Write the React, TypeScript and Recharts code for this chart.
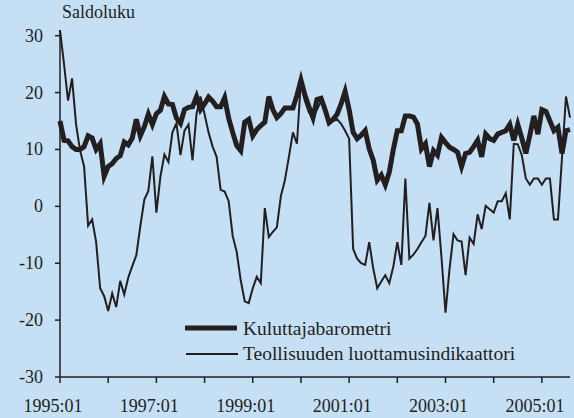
import { LineChart, Line, XAxis, YAxis, Legend, Label } from 'recharts';

// monthly data 1995:01 .. 2005:08
const startYear = 1995;
const months: string[] = Array.from({ length: 128 }, (_, i) => {
  const y = startYear + Math.floor(i / 12);
  const m = (i % 12) + 1;
  return `${y}:${m < 10 ? '0' + m : m}`;
});

const kuluttajabarometri = [
  15, 11.6, 11.5, 10.5, 10, 10, 10.5, 12.4, 12, 10, 11, 5.3, 7, 7.5, 8.4, 8.9, 11.3, 10.8, 12, 15.3,
  12.4, 14, 16.2, 14.4, 16.3, 16.9, 19.3, 18, 17.9, 15.5, 14.6, 17, 17.4, 17.5, 19.3, 17, 18, 19.2, 18.5, 17.5,
  17.5, 19.1, 15.5, 13, 10.7, 9.8, 14.8, 15.3, 12.4, 13.5, 14.2, 14.8, 19.3, 17, 15.6, 16.3, 17.3, 17.3, 17.3, 19.5,
  22.2, 19.5, 17.5, 15.6, 18.8, 19, 17, 14.7, 15.3, 16.2, 18, 20.2, 17, 13, 11.9, 12.5, 13.3, 10.1, 8.1, 4.6,
  5.5, 3.8, 6, 10, 13.3, 13.3, 15.9, 15.9, 15.7, 14.5, 10.1, 11, 7, 9.8, 9, 12.1, 11.2, 10.4, 10, 9.5,
  7, 9.3, 9.5, 10.5, 11.6, 8.7, 12.7, 11.9, 11.6, 12.7, 13, 13.3, 14.4, 11.6, 14.4, 12, 9.3, 12.5, 15.9, 12.7,
  17, 16.7, 15, 13.3, 13.9, 9.3, 13.3, 13.5,
];

const teollisuus = [
  31, 25, 18.6, 22.5, 14.4, 9.8, 7, -3.4, -2.3, -6.3, -14.4, -15.8, -18.4, -15.3, -17.7, -13.1, -15.5, -12.5, -10.5, -8.6,
  -3.5, 1.2, 2.7, 8.8, -1.1, 5.2, 9.1, 7.8, 13, 14.6, 9, 13.3, 14.4, 8.1, 16.3, 19.3, 16.2, 13, 10.5, 8.7,
  2.9, 2.6, 0.9, -5.2, -8, -13, -16.7, -17, -14.4, -12.4, -13.5, -0.3, -5.4, -4.5, -3.7, 1.8, 4.6, 8.7, 13, 11,
  22.2, 18.5, 16.5, 15.6, 17, 18.5, 17, 14.5, 15, 15.3, 14.5, 13.3, 11.9, -7.5, -9.2, -10, -10.3, -6.3, -10.9, -14.4,
  -13.2, -12.1, -13.5, -10.6, -6.3, -10.3, 4.9, -9.2, -8.5, -7.5, -6.3, -5.2, 0.6, -6, -0.3, -9, -18.7, -11, -4.9, -6,
  -6.2, -12.1, -5.5, -6.6, -1.4, -4, 0.1, -0.5, -1.1, 0.9, 0.9, 2.3, -2.3, 11, 10.9, 9, 4.9, 3.8, 4.9, 4.9,
  3.8, 4.9, 4.9, -2.3, -2.3, 8.5, 19.3, 15.6,
];

const xTicks = [0, 12, 24, 36, 48, 60, 72, 84, 96, 108, 120];
const yTicks = [-30, -20, -10, 0, 10, 20, 30];

const data = months.map((label, i) => ({
  i,
  label,
  kulu: kuluttajabarometri[i],
  teol: teollisuus[i],
}));

const ink = '#231f20';
const font =
  '"Liberation Serif", "Times New Roman", Tinos, "Nimbus Roman", "Noto Serif", "DejaVu Serif", FreeSerif, serif';
const textStyle: React.CSSProperties = { fontFamily: font };

const XTick = (props: any) => {
  const { x, payload } = props;
  const idx = payload.value as number;
  if (idx % 24 !== 0) return <g />;
  const cx = typeof payload.coordinate === 'number' ? payload.coordinate : x;
  return (
    <text x={cx - 7} y={412} textAnchor="middle" fill={ink} fontSize={18} style={textStyle}>
      {months[idx]}
    </text>
  );
};

const YTick = (props: any) => {
  const { y, payload } = props;
  return (
    <text x={43} y={y + 6} textAnchor="end" fill={ink} fontSize={18} style={textStyle}>
      {payload.value}
    </text>
  );
};

const renderLegend = () => (
  <svg width={360} height={52} style={{ display: 'block' }}>
    <line x1={5} x2={57} y1={14} y2={14} stroke={ink} strokeWidth={5} />
    <text x={63} y={21} fill={ink} fontSize={19.5} style={textStyle}>Kuluttajabarometri</text>
    <line x1={6} x2={58} y1={40} y2={40} stroke={ink} strokeWidth={2} />
    <text x={63} y={46} fill={ink} fontSize={19.5} style={textStyle}>Teollisuuden luottamusindikaattori</text>
  </svg>
);

export default function App() {
  return (
    <div style={styles.container}>
      <LineChart width={574} height={418} data={data} margin={{ top: 30, right: 4, bottom: 0, left: 0 }}>
        <XAxis
          dataKey="i"
          type="number"
          domain={[0, 127]}
          ticks={xTicks}
          interval={0}
          height={41}
          tickSize={6}
          stroke={ink}
          axisLine={{ stroke: ink, strokeWidth: 1.5 }}
          tickLine={{ stroke: ink, strokeWidth: 1.5 }}
          tick={XTick}
        />
        <YAxis
          type="number"
          domain={[-30, 30]}
          ticks={yTicks}
          interval={0}
          width={60}
          tickSize={5}
          stroke={ink}
          axisLine={{ stroke: ink, strokeWidth: 1.5 }}
          tickLine={{ stroke: ink, strokeWidth: 1.5 }}
          tick={YTick}
        >
          <Label
            content={() => (
              <text x={62} y={18} fill={ink} fontSize={18} style={textStyle}>
                Saldoluku
              </text>
            )}
          />
        </YAxis>
        <Legend
          layout="vertical"
          align="center"
          verticalAlign="middle"
          content={renderLegend}
          wrapperStyle={{ left: 180, top: 314, width: 360, height: 52 }}
        />
        <Line
          type="linear"
          dataKey="kulu"
          name="Kuluttajabarometri"
          stroke={ink}
          strokeWidth={5}
          dot={false}
          isAnimationActive={false}
        />
        <Line
          type="linear"
          dataKey="teol"
          name="Teollisuuden luottamusindikaattori"
          stroke={ink}
          strokeWidth={2}
          dot={false}
          isAnimationActive={false}
        />
      </LineChart>
    </div>
  );
}

const styles: Record<string, React.CSSProperties> = {
  container: {
    position: 'absolute',
    left: 0,
    top: 0,
    width: 574,
    height: 418,
    background: '#c5dff4',
    fontFamily: font,
  },
};
